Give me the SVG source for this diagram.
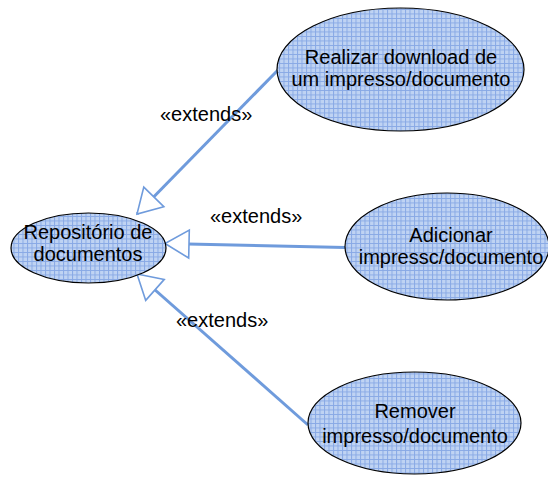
<svg xmlns="http://www.w3.org/2000/svg" width="548" height="477" viewBox="0 0 548 477">
<style>
.uc{fill:url(#grid);stroke:#000;stroke-width:1.2}
.t{font-family:"Liberation Sans",Arial,sans-serif;font-size:20px;fill:#000;text-anchor:middle}
.lbl{font-family:"Liberation Sans",Arial,sans-serif;font-size:20px;fill:#000}
.c{stroke:#6f9bdc;stroke-width:3;fill:none;marker-end:url(#tri)}
</style>
<defs>
<pattern id="grid" width="4.5" height="4.5" patternUnits="userSpaceOnUse">
<rect width="4.5" height="4.5" fill="#bfd3f3"/>
<path d="M0,0.5 H4.5 M0.5,0 V4.5" stroke="#88a9e5" stroke-width="1"/>
</pattern>
<marker id="tri" viewBox="-2 -2 28 32" markerWidth="28" markerHeight="32" refX="24" refY="14" orient="auto" markerUnits="userSpaceOnUse">
<path d="M0,0 L24,14 L0,28 Z" fill="#fff" stroke="#6f9bdc" stroke-width="1.6"/>
</marker>
</defs>
<rect width="548" height="477" fill="#fff"/>
<g id="connectors">
<line class="c" x1="278" y1="70" x2="137" y2="214"/>
<line class="c" x1="345" y1="247.5" x2="165" y2="243.5"/>
<line class="c" x1="308" y1="425" x2="137" y2="274"/>
</g>
<g id="labels">
<text class="lbl" x="160" y="121">«extends»</text>
<text class="lbl" x="210" y="223">«extends»</text>
<text class="lbl" x="176" y="327">«extends»</text>
</g>
<g id="repositorio">
<ellipse class="uc" cx="88.5" cy="248" rx="77.5" ry="35"/>
<text class="t" x="88" y="239">Repositório de</text>
<text class="t" x="88" y="261">documentos</text>
</g>
<g id="download">
<ellipse class="uc" cx="400.5" cy="69.5" rx="123.5" ry="61.5"/>
<text class="t" x="401" y="64">Realizar download de</text>
<text class="t" x="401" y="86">um impresso/documento</text>
</g>
<g id="adicionar">
<ellipse class="uc" cx="447" cy="246.5" rx="102" ry="53.5"/>
<text class="t" x="451" y="242">Adicionar</text>
<text class="t" x="451" y="264">impressc/documento</text>
</g>
<g id="remover">
<ellipse class="uc" cx="414.5" cy="423" rx="106.5" ry="51"/>
<text class="t" x="415" y="418">Remover</text>
<text class="t" x="415" y="443">impresso/documento</text>
</g>
</svg>
